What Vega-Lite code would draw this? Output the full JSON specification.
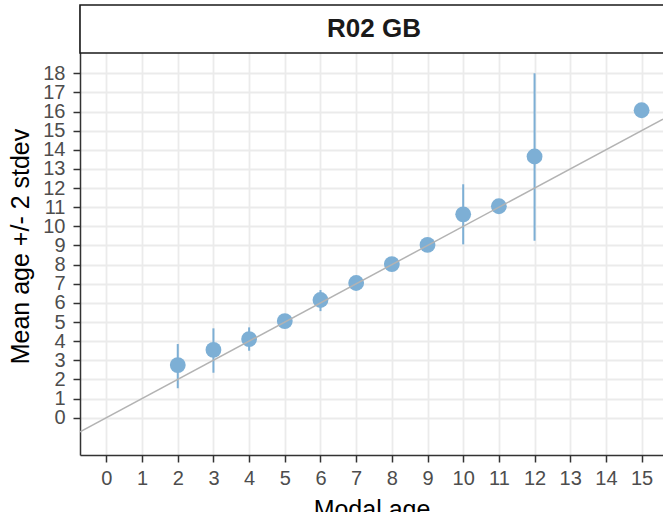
{
  "$schema": "https://vega.github.io/schema/vega-lite/v6.json",
  "width": 583,
  "height": 450,
  "autosize": {"type": "none"},
  "padding": {"left": 80, "top": 5, "right": 0, "bottom": 57},
  "background": "white",
  "config": {
    "view": {"stroke": null},
    "font": "Liberation Sans",
    "axis": {
      "labelFont": "Liberation Sans",
      "titleFont": "Liberation Sans",
      "labelFontSize": 20,
      "labelColor": "#4D4D4D",
      "titleFontSize": 25,
      "titleFontWeight": "normal",
      "titleColor": "#000000",
      "tickSize": 7,
      "tickColor": "#333333",
      "tickWidth": 1.5,
      "domainColor": "#333333",
      "domainWidth": 1.5,
      "grid": true,
      "gridColor": "#EBEBEB",
      "gridWidth": 1.8,
      "labelFlush": false,
      "labelOverlap": false
    }
  },
  "datasets": {
    "points": [
      {"modal": 2, "mean": 2.75, "lo": 1.54, "hi": 3.85},
      {"modal": 3, "mean": 3.54, "lo": 2.35, "hi": 4.67},
      {"modal": 4, "mean": 4.11, "lo": 3.5, "hi": 4.72},
      {"modal": 5, "mean": 5.05, "lo": 4.85, "hi": 5.25},
      {"modal": 6, "mean": 6.15, "lo": 5.57, "hi": 6.67},
      {"modal": 7, "mean": 7.04, "lo": 6.9, "hi": 7.18},
      {"modal": 8, "mean": 8.03, "lo": 7.9, "hi": 8.16},
      {"modal": 9, "mean": 9.03, "lo": 8.9, "hi": 9.16},
      {"modal": 10, "mean": 10.63, "lo": 9.06, "hi": 12.2},
      {"modal": 11, "mean": 11.05, "lo": 10.9, "hi": 11.2},
      {"modal": 12, "mean": 13.65, "lo": 9.25, "hi": 18.0},
      {"modal": 15, "mean": 16.07, "lo": 16.0, "hi": 16.14}
    ],
    "strip": [{"panel": "R02 GB"}]
  },
  "layer": [
    {
      "data": {"name": "strip"},
      "mark": {"type": "rect", "fill": "white", "stroke": "#1A1A1A", "strokeWidth": 1.6},
      "encoding": {
        "x": {
          "datum": -0.74, "type": "quantitative",
          "scale": {"domain": [-0.74, 15.6], "nice": false, "zero": false},
          "axis": {"title": "Modal age", "values": [0,1,2,3,4,5,6,7,8,9,10,11,12,13,14,15], "labelPadding": 6.5, "titlePadding": 8.5}
        },
        "x2": {"datum": 16.5},
        "y": {
          "datum": 19.06, "type": "quantitative",
          "scale": {"domain": [-1.95, 21.57], "nice": false, "zero": false},
          "axis": {"title": "Mean age +/- 2 stdev", "values": [0,1,2,3,4,5,6,7,8,9,10,11,12,13,14,15,16,17,18], "labelPadding": 8, "titlePadding": 9, "titleY": 241}
        },
        "y2": {"datum": 21.57}
      }
    },
    {
      "data": {"name": "points"},
      "mark": {"type": "rule", "color": "#7DAFD5", "strokeWidth": 2},
      "encoding": {
        "x": {"field": "modal", "type": "quantitative",
          "axis": {"title": "Modal age", "values": [0,1,2,3,4,5,6,7,8,9,10,11,12,13,14,15], "labelPadding": 6.5, "titlePadding": 8.5}},
        "y": {"field": "lo", "type": "quantitative",
          "axis": {"title": "Mean age +/- 2 stdev", "values": [0,1,2,3,4,5,6,7,8,9,10,11,12,13,14,15,16,17,18], "labelPadding": 8, "titlePadding": 9, "titleY": 241}},
        "y2": {"field": "hi"}
      }
    },
    {
      "data": {"name": "points"},
      "mark": {"type": "point", "filled": true, "opacity": 1, "color": "#7DAFD5", "size": 250},
      "encoding": {
        "x": {"field": "modal", "type": "quantitative",
          "axis": {"title": "Modal age", "values": [0,1,2,3,4,5,6,7,8,9,10,11,12,13,14,15], "labelPadding": 6.5, "titlePadding": 8.5}},
        "y": {"field": "mean", "type": "quantitative",
          "axis": {"title": "Mean age +/- 2 stdev", "values": [0,1,2,3,4,5,6,7,8,9,10,11,12,13,14,15,16,17,18], "labelPadding": 8, "titlePadding": 9, "titleY": 241}}
      }
    },
    {
      "data": {"name": "strip"},
      "mark": {"type": "rule", "color": "#B3B3B3", "strokeWidth": 1.5, "clip": true},
      "encoding": {
        "x": {"datum": -0.74, "type": "quantitative",
          "axis": {"title": "Modal age", "values": [0,1,2,3,4,5,6,7,8,9,10,11,12,13,14,15], "labelPadding": 6.5, "titlePadding": 8.5}},
        "y": {"datum": -0.74, "type": "quantitative",
          "axis": {"title": "Mean age +/- 2 stdev", "values": [0,1,2,3,4,5,6,7,8,9,10,11,12,13,14,15,16,17,18], "labelPadding": 8, "titlePadding": 9, "titleY": 241}},
        "x2": {"datum": 15.6},
        "y2": {"datum": 15.6}
      }
    },
    {
      "data": {"name": "strip"},
      "mark": {"type": "text", "font": "Liberation Sans", "fontSize": 26, "fontWeight": "bold", "color": "#1A1A1A", "align": "center", "baseline": "middle"},
      "encoding": {
        "x": {"datum": 7.5, "type": "quantitative",
          "axis": {"title": "Modal age", "values": [0,1,2,3,4,5,6,7,8,9,10,11,12,13,14,15], "labelPadding": 6.5, "titlePadding": 8.5}},
        "y": {"datum": 20.3, "type": "quantitative",
          "axis": {"title": "Mean age +/- 2 stdev", "values": [0,1,2,3,4,5,6,7,8,9,10,11,12,13,14,15,16,17,18], "labelPadding": 8, "titlePadding": 9, "titleY": 241}},
        "text": {"field": "panel"}
      }
    }
  ]
}
